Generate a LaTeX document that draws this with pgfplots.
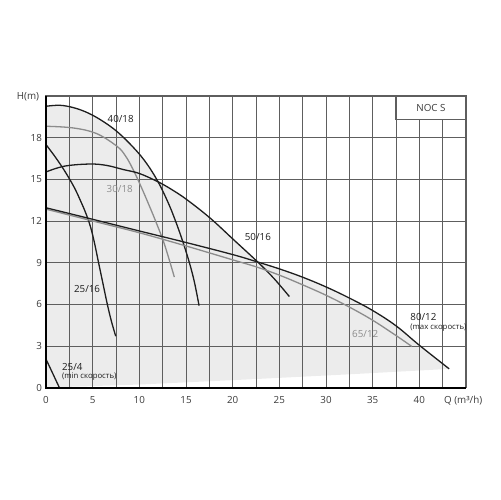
\documentclass[border=0pt]{standalone}
\usepackage{fontspec}
\setmainfont{Open Sans}
\usepackage{pgfplots}
\pgfplotsset{compat=1.18}
\usetikzlibrary{calc}

\definecolor{curve}{HTML}{1E1E1E}
\definecolor{curvegray}{HTML}{8C8C8C}
\definecolor{shade}{HTML}{ECECEC}
\definecolor{gridc}{HTML}{5E5E5E}
\definecolor{ticktext}{HTML}{3A3A3A}

\newcommand{\lbl}{\fontsize{4.9}{5.5}\selectfont}
\newcommand{\sml}{\fontsize{3.9}{4.5}\selectfont}

\begin{document}
\begin{tikzpicture}
\begin{axis}[
    set layers,
    scale only axis,
    width=210pt, height=145.8pt,
    xmin=0, xmax=45, ymin=0, ymax=21,
    xtick={0,5,...,40},
    ytick={0,3,...,18},
    minor xtick={2.5,7.5,...,42.5},
    grid=both,
    major grid style={gridc, line width=0.4pt},
    minor grid style={gridc, line width=0.4pt},
    major tick length=0pt, minor tick length=0pt,
    tick label style={font=\lbl, text=ticktext},
    x tick label style={yshift=-1pt},
    y tick label style={xshift=1.5pt},
    /pgf/number format/assume math mode=true,
    axis line style={gridc, line width=0.6pt},
    clip=false,
    every axis plot/.append style={line width=0.65pt, smooth, tension=0.6},
]

% envelope of the working range
\addplot[on layer=axis background, fill=shade, draw=none, sharp plot] coordinates {
    (0,0) (0,20.26) (1.5,20.33) (3,20.15) (4.5,19.78) (6,19.22) (7.5,18.5)
    (9,17.55) (10.5,16.4) (11.86,15.0)
    (13.5,14.25) (15.1,13.53) (17.6,12.2) (20.1,10.65) (22.6,9.05)
    (25,8.55) (27.5,7.95) (30,7.25) (32.5,6.45) (35,5.55) (37.5,4.45)
    (40,3.05) (43.2,1.35)
    (40,1.23) (32.6,0.96) (22,0.6) (10,0.22) (0,0)
} -- cycle;

% 40/18
\addplot[curve] coordinates {
    (0,20.26) (1.5,20.33) (3,20.15) (4.5,19.78) (6,19.22) (7.5,18.5)
    (9,17.55) (10.5,16.4) (11.86,15.0) (13,13.45) (13.82,12.1)
    (14.64,10.55) (15.36,9.0) (15.9,7.6) (16.4,5.9)
};
% 30/18
\addplot[curvegray] coordinates {
    (0,18.82) (2.9,18.7) (5.4,18.3) (7.6,17.38) (8.5,16.7) (9.3,15.75)
    (10.2,14.45) (11.0,13.2) (11.8,11.9) (12.7,10.3) (13.75,7.96)
};
% 25/16
\addplot[curve] coordinates {
    (0,17.5) (1,16.6) (2,15.6) (3,14.45) (3.7,13.45) (4.3,12.5) (4.8,11.5)
    (5.2,10.4) (5.6,9.1) (6.1,7.5) (6.57,6.0) (7.0,4.8) (7.47,3.7)
};
% 50/16
\addplot[curve] coordinates {
    (0,15.53) (2,15.95) (4.7,16.1) (6.5,16.0) (8.3,15.7) (10,15.42)
    (12,14.82) (13.5,14.25) (15.1,13.53) (17.6,12.2) (20.1,10.65)
    (22.8,8.97) (24.5,7.8) (26.07,6.56)
};
% 65/12
\addplot[curvegray] coordinates {
    (0,12.85) (5,12.0) (10,11.15) (15,10.2) (20,9.2) (22.5,8.7)
    (25,8.1) (27.5,7.4) (30,6.65) (32.5,5.8) (35,4.85) (37.5,3.75) (39.2,2.96)
};
% 80/12
\addplot[curve] coordinates {
    (0,12.95) (5,12.12) (10,11.28) (15,10.45) (20,9.58) (22.5,9.08)
    (25,8.55) (27.5,7.95) (30,7.25) (32.5,6.45) (35,5.55) (37.5,4.45)
    (40,3.05) (43.2,1.35)
};
% 25/4
\addplot[curve, sharp plot] coordinates {
    (0,2.05) (0.7,1.05) (1.43,0)
};

% frame accents
\draw[black, line width=1pt] (rel axis cs:0,1) -- (rel axis cs:0,0) -- (rel axis cs:1,0);
\draw[gridc, fill=white, line width=0.6pt] (axis cs:37.5,19.3) rectangle (axis cs:45,21);
\node[font=\lbl, text=ticktext] at (axis cs:41.25,20.15) {NOC S};

% curve labels
\node[font=\lbl, text=curve] at (axis cs:8.0,19.35) {40/18};
\node[font=\lbl, text=curvegray] at (axis cs:7.9,14.3) {30/18};
\node[font=\lbl, text=curve] at (axis cs:22.7,10.81) {50/16};
\node[font=\lbl, text=curve] at (axis cs:4.4,7.12) {25/16};
\node[font=\lbl, text=curvegray] at (axis cs:34.2,3.85) {65/12};
\node[font=\lbl, text=curve, anchor=west, inner sep=0pt] at (axis cs:39.0,5.07) {80/12};
\node[font=\sml, text=curve, anchor=west, inner sep=0pt] at (axis cs:39.0,4.33) {(max скорость)};
\node[font=\lbl, text=curve, anchor=west, inner sep=0pt] at (axis cs:1.68,1.51) {25/4};
\node[font=\sml, text=curve, anchor=west, inner sep=0pt] at (axis cs:1.68,0.79) {(min скорость)};

% axis titles
\node[font=\lbl, text=ticktext] at (axis cs:-1.93,20.96) {H(m)};
\node[font=\lbl, text=ticktext] at (axis cs:44.7,-0.95) {Q (m³/h)};
\end{axis}
\path ($(current axis.south west)+(-23pt,-56.2pt)$) rectangle ($(current axis.north east)+(17pt,48pt)$);
\end{tikzpicture}
\end{document}
